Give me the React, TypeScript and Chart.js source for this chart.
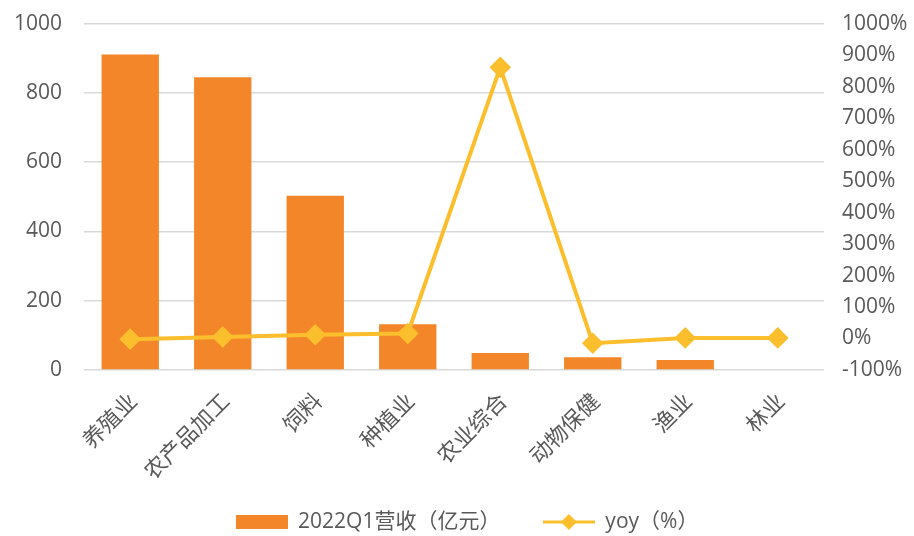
import React, { useEffect, useRef } from "react";
import { Chart, registerables } from "chart.js";

Chart.register(...registerables);

const categories = ["养殖业", "农产品加工", "饲料", "种植业", "农业综合", "动物保健", "渔业", "林业"];
const revenue = [911, 845, 503, 132, 49, 37, 29, 2];
const yoy = [-2, 5, 12, 16, 861, -15, 2, 2];
const revenueLabel = "2022Q1营收（亿元）";
const yoyLabel = "yoy（%）";

const BAR_COLOR = "#F4862A";
const LINE_COLOR = "#FBBF2D";
const TEXT_COLOR = "#595959";
const FONT = '"Open Sans", "Noto Sans CJK SC", sans-serif';

function makeBarIcon(): HTMLCanvasElement {
  const c = document.createElement("canvas");
  c.width = 52;
  c.height = 14;
  const ctx = c.getContext("2d")!;
  ctx.fillStyle = BAR_COLOR;
  ctx.fillRect(0, 0, 52, 14);
  return c;
}

function makeLineIcon(): HTMLCanvasElement {
  const c = document.createElement("canvas");
  c.width = 52;
  c.height = 18;
  const ctx = c.getContext("2d")!;
  ctx.strokeStyle = LINE_COLOR;
  ctx.lineWidth = 3;
  ctx.beginPath();
  ctx.moveTo(0, 9);
  ctx.lineTo(52, 9);
  ctx.stroke();
  ctx.fillStyle = LINE_COLOR;
  ctx.beginPath();
  ctx.moveTo(26, 1);
  ctx.lineTo(34, 9);
  ctx.lineTo(26, 17);
  ctx.lineTo(18, 9);
  ctx.closePath();
  ctx.fill();
  return c;
}

export default function App() {
  const ref = useRef<HTMLCanvasElement>(null);

  useEffect(() => {
    if (!ref.current) return;
    const barIcon = makeBarIcon();
    const lineIcon = makeLineIcon();
    const chart = new Chart(ref.current, {
      type: "bar",
      data: {
        labels: categories,
        datasets: [
          {
            type: "line",
            label: yoyLabel,
            data: yoy,
            yAxisID: "y1",
            borderColor: LINE_COLOR,
            backgroundColor: LINE_COLOR,
            borderWidth: 4,
            pointStyle: "rectRot",
            pointRadius: 8,
            pointBackgroundColor: LINE_COLOR,
            pointBorderColor: LINE_COLOR,
            tension: 0,
            order: 0,
          } as any,
          {
            type: "bar",
            label: revenueLabel,
            data: revenue,
            yAxisID: "y",
            backgroundColor: BAR_COLOR,
            categoryPercentage: 1,
            barPercentage: 0.62,
            order: 1,
          },
        ],
      },
      options: {
        animation: false,
        responsive: false,
        maintainAspectRatio: false,
        layout: { padding: { top: 0, bottom: -6.5, left: 10, right: -10 } },
        plugins: {
          tooltip: { enabled: false },
          legend: {
            position: "bottom",
            labels: {
              usePointStyle: true,
              pointStyleWidth: 52,
              color: TEXT_COLOR,
              font: { family: FONT, size: 21 },
              padding: 31.5,
              generateLabels: () => [
                {
                  text: revenueLabel + "  ",
                  pointStyle: barIcon as any,
                  fillStyle: BAR_COLOR,
                  strokeStyle: BAR_COLOR,
                  lineWidth: 0,
                  hidden: false,
                  datasetIndex: 1,
                  fontColor: TEXT_COLOR,
                },
                {
                  text: yoyLabel,
                  pointStyle: lineIcon as any,
                  fillStyle: LINE_COLOR,
                  strokeStyle: LINE_COLOR,
                  lineWidth: 0,
                  hidden: false,
                  datasetIndex: 0,
                  fontColor: TEXT_COLOR,
                },
              ],
            },
          },
        },
        scales: {
          x: {
            grid: { display: false },
            border: { display: false },
            ticks: {
              color: TEXT_COLOR,
              font: { family: FONT, size: 22 },
              maxRotation: 45,
              minRotation: 45,
              padding: 11,
              labelOffset: 4,
            },
            afterFit: (s: any) => {
              s.height = 110;
            },
          },
          y: {
            position: "left",
            min: 0,
            max: 1000,
            ticks: {
              stepSize: 200,
              color: TEXT_COLOR,
              font: { family: FONT, size: 21 },
              padding: 11,
              callback: (v: any) => String(v),
            },
            grid: {
              color: "#D9D9D9",
              lineWidth: 1.5,
              drawTicks: true,
              tickLength: 11,
              tickColor: "rgba(0,0,0,0)",
            },
            border: { display: false },
            afterFit: (s: any) => {
              s.width = 74;
            },
          },
          y1: {
            position: "right",
            min: -100,
            max: 1000,
            ticks: {
              stepSize: 100,
              color: TEXT_COLOR,
              font: { family: FONT, size: 21 },
              padding: 9,
              callback: (v: any) => v + "%",
            },
            grid: {
              display: true,
              drawOnChartArea: false,
              drawTicks: true,
              tickLength: 9,
              tickColor: "rgba(0,0,0,0)",
            },
            border: { display: false },
            afterFit: (s: any) => {
              s.width = 100;
            },
          },
        },
      },
    });
    return () => chart.destroy();
  }, []);

  return (
    <div style={{ position: "fixed", left: 0, top: 0, width: 914, height: 536, background: "#fff" }}>
      <canvas ref={ref} width={914} height={536} style={{ width: 914, height: 536 }} />
    </div>
  );
}
